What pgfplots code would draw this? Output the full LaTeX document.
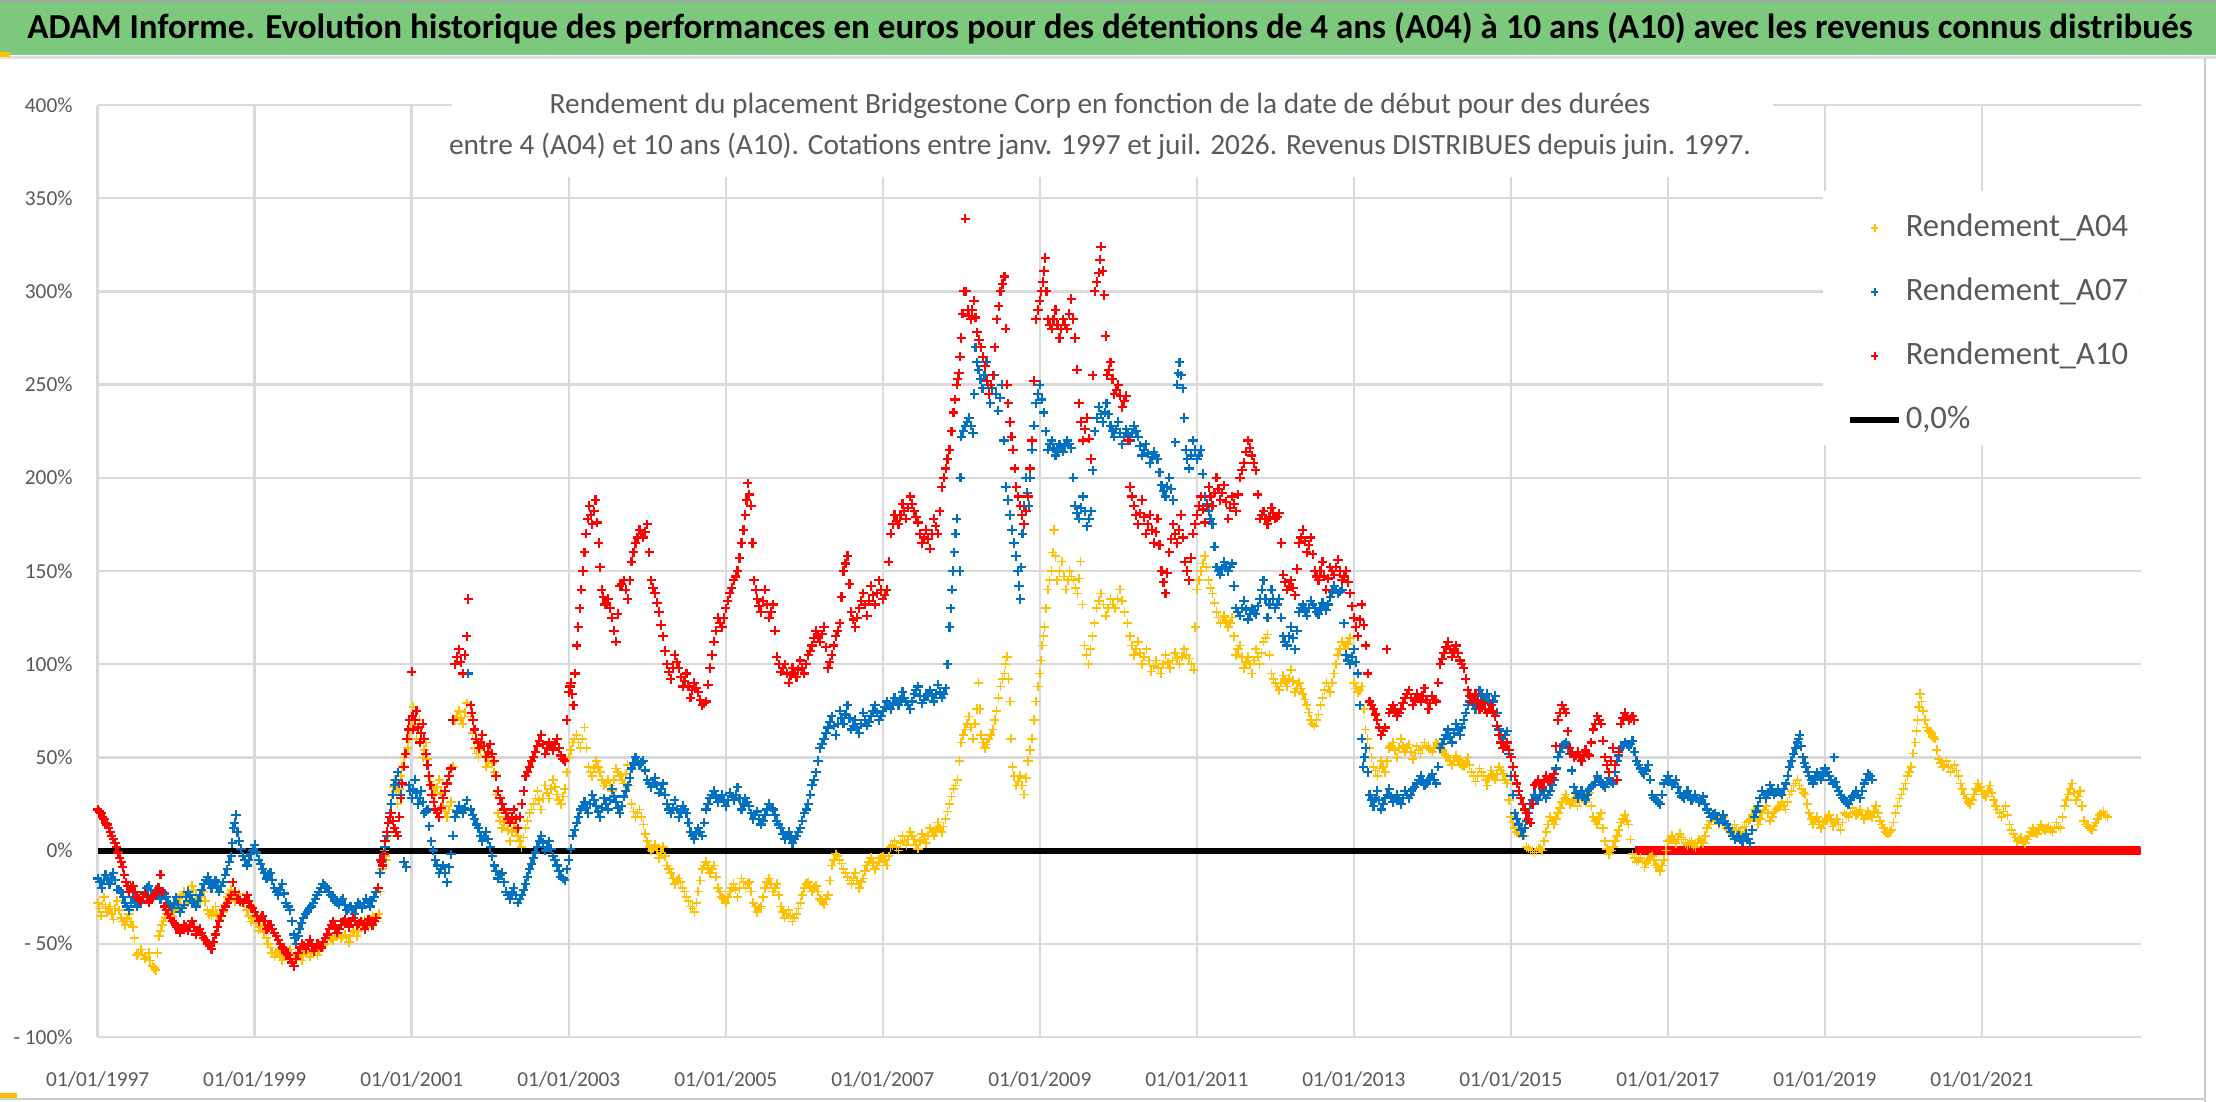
\documentclass[border=0pt]{standalone}
\usepackage{pgfplots}
\pgfplotsset{compat=1.18}
\usepackage{fontspec}
\setmainfont{Carlito}
\definecolor{ygold}{HTML}{FFC000}
\definecolor{bblue}{HTML}{0070C0}
\definecolor{rred}{HTML}{FF0000}
\definecolor{bannergreen}{RGB}{124,200,124}
\definecolor{txtgray}{HTML}{595959}
\definecolor{gridgray}{HTML}{D9D9D9}
\pgfplotsset{
  mylegmark/.style={legend image code/.code={\path (0pt,0pt) (14.5pt,0pt); \draw[##1, overlay, mark size=1.1pt, line width=0.45pt] plot coordinates {(7.3pt,0pt)};}},
  mylegline/.style={legend image code/.code={\draw[black, line width=1.8pt] (0pt,0pt) -- (14.5pt,0pt);}},
  yst/.style={only marks, mark=+, mark size=1.4pt, line width=0.5pt, ygold},
  bst/.style={only marks, mark=+, mark size=1.4pt, line width=0.65pt, bblue},
  rst/.style={only marks, mark=+, mark size=1.4pt, line width=0.65pt, rred},
}
\begin{document}
\begin{tikzpicture}
\useasboundingbox (0,0) rectangle (664.8pt,330.6pt);
\begin{scope}[shift={(0,330.6pt)}, x=0.3pt, y=-0.3pt]
\fill[white] (0,0) rectangle (2216,1102);
\fill[bannergreen] (0,0) rectangle (2216,55);
\draw[gray!70, line width=0.6pt] (0,1) -- (2216,1);
\draw[gray!25, line width=0.9pt] (0,58) -- (2216,58);
\fill[ygold] (0,52) rectangle (10,57);
\fill[ygold] (0,1093) rectangle (17,1100);
\draw[gray!40, line width=0.6pt] (2205,58) -- (2205,1102);
\draw[gray!40, line width=0.6pt] (0,1099) -- (2205,1099);
\node[anchor=center, inner sep=0pt] at (1110,28) {\resizebox{649.5pt}{!}{\bfseries\fontsize{10}{12}\selectfont ADAM Informe. Evolution historique des performances en euros pour des détentions de 4 ans (A04) à 10 ans (A10) avec les revenus connus distribués}};
\end{scope}
\begin{axis}[
  at={(29.31pt,19.5pt)}, anchor=south west,
  width=612.84pt, height=279.6pt, scale only axis,
  xmin=1997, xmax=2023.02, ymin=-100, ymax=400,
  axis line style={draw=none},
  xtick={1997,1999,2001,2003,2005,2007,2009,2011,2013,2015,2017,2019,2021},
  xticklabels={01/01/1997,01/01/1999,01/01/2001,01/01/2003,01/01/2005,01/01/2007,01/01/2009,01/01/2011,01/01/2013,01/01/2015,01/01/2017,01/01/2019,01/01/2021},
  ytick={-100,-50,0,50,100,150,200,250,300,350,400},
  yticklabels={- 100\%,- 50\%,0\%,50\%,100\%,150\%,200\%,250\%,300\%,350\%,400\%},
  grid=major, major grid style={gridgray, line width=0.75pt},
  major tick length=0pt,
  tick label style={font=\fontsize{6.4}{7.5}\selectfont, text=txtgray},
  yticklabel style={anchor=east, xshift=-4pt},
  xticklabel style={anchor=north, yshift=-6.8pt},
  legend style={at={(axis description cs:0.8562,0.885)}, anchor=north west, draw=none, fill=none, inner sep=0pt,
    font=\fontsize{9.8}{11}\selectfont, text=txtgray, row sep=10.2pt,
    nodes={inner sep=0pt, text height=7pt, text depth=2pt}},
  legend cell align=left,
  legend columns=1,
  /tikz/every odd column/.append style={column sep=1.2pt},
]
\addplot[black, line width=1.8pt, forget plot] coordinates {(1997,0) (2023.02,0)};
\addplot[rred, line width=2.7pt, forget plot] coordinates {(2016.58,0) (2023.02,0)};

\addplot[yst, mylegmark]
 table[row sep=\\] {
x y\\
1997.00 -28\\ 1997.04 -35\\ 1997.08 -25\\ 1997.12 -33\\ 1997.16 -30\\ 1997.20 -37\\ 1997.25 -27\\ 1997.30 -36\\ 1997.35 -40\\ 1997.40 -34\\
1997.45 -41\\ 1997.50 -56\\ 1997.55 -53\\ 1997.60 -58\\ 1997.65 -55\\ 1997.70 -62\\ 1997.74 -64\\ 1997.78 -46\\ 1997.82 -40\\ 1997.86 -36\\
1997.90 -32\\ 1997.95 -35\\ 1998.00 -30\\ 1998.05 -25\\ 1998.10 -22\\ 1998.15 -28\\ 1998.20 -19\\ 1998.25 -24\\ 1998.30 -27\\ 1998.35 -22\\
1998.40 -32\\ 1998.45 -35\\ 1998.50 -30\\ 1998.55 -37\\ 1998.60 -33\\ 1998.65 -25\\ 1998.70 -21\\ 1998.75 -27\\ 1998.80 -23\\ 1998.85 -28\\
1998.90 -32\\ 1998.95 -38\\ 1999.00 -35\\ 1999.05 -43\\ 1999.10 -40\\ 1999.15 -47\\ 1999.20 -52\\ 1999.25 -57\\ 1999.30 -54\\ 1999.35 -59\\
1999.40 -56\\ 1999.45 -53\\ 1999.50 -58\\ 1999.55 -55\\ 1999.60 -59\\ 1999.65 -54\\ 1999.70 -57\\ 1999.75 -53\\ 1999.80 -56\\ 1999.85 -52\\
1999.90 -50\\ 1999.95 -46\\ 2000.00 -48\\ 2000.05 -44\\ 2000.10 -47\\ 2000.15 -45\\ 2000.20 -49\\ 2000.25 -43\\ 2000.30 -46\\ 2000.35 -40\\
2000.40 -37\\ 2000.45 -41\\ 2000.50 -35\\ 2000.55 -38\\ 2000.58 -34\\ 2000.62 -10\\ 2000.65 0\\ 2000.68 -5\\ 2000.72 20\\ 2000.75 30\\
2000.78 38\\ 2000.82 25\\ 2000.86 40\\ 2000.90 50\\ 2000.95 55\\ 2000.98 65\\ 2001.02 77\\ 2001.06 60\\ 2001.10 70\\ 2001.14 50\\
2001.18 58\\ 2001.22 40\\ 2001.26 35\\ 2001.30 30\\ 2001.35 38\\ 2001.40 24\\ 2001.45 18\\ 2001.50 26\\ 2001.55 70\\ 2001.60 75\\
2001.65 68\\ 2001.70 79\\ 2001.72 135\\ 2001.75 72\\ 2001.80 55\\ 2001.85 50\\ 2001.90 58\\ 2001.95 45\\ 2002.00 52\\ 2002.05 42\\
2002.10 20\\ 2002.15 12\\ 2002.20 18\\ 2002.25 5\\ 2002.30 15\\ 2002.35 8\\ 2002.40 2\\ 2002.45 12\\ 2002.50 20\\ 2002.55 25\\
2002.60 32\\ 2002.65 22\\ 2002.70 35\\ 2002.75 28\\ 2002.80 38\\ 2002.85 30\\ 2002.90 25\\ 2002.95 33\\ 2003.00 50\\ 2003.05 58\\
2003.10 62\\ 2003.15 55\\ 2003.20 66\\ 2003.25 45\\ 2003.30 40\\ 2003.35 48\\ 2003.40 42\\ 2003.45 35\\ 2003.50 38\\ 2003.55 32\\
2003.60 44\\ 2003.65 40\\ 2003.70 36\\ 2003.75 46\\ 2003.80 25\\ 2003.85 18\\ 2003.90 22\\ 2003.95 14\\ 2004.00 5\\ 2004.05 0\\
2004.10 3\\ 2004.15 -4\\ 2004.20 2\\ 2004.25 -8\\ 2004.30 -12\\ 2004.35 -18\\ 2004.40 -15\\ 2004.45 -20\\ 2004.50 -25\\ 2004.55 -30\\
2004.60 -33\\ 2004.65 -22\\ 2004.70 -10\\ 2004.75 -6\\ 2004.80 -12\\ 2004.85 -8\\ 2004.90 -20\\ 2004.95 -25\\ 2005.00 -28\\ 2005.05 -22\\
2005.10 -18\\ 2005.15 -25\\ 2005.20 -15\\ 2005.25 -20\\ 2005.30 -17\\ 2005.35 -28\\ 2005.40 -33\\ 2005.45 -30\\ 2005.50 -20\\ 2005.55 -15\\
2005.60 -22\\ 2005.65 -18\\ 2005.70 -30\\ 2005.75 -36\\ 2005.80 -32\\ 2005.85 -38\\ 2005.90 -34\\ 2005.95 -28\\ 2006.00 -20\\ 2006.05 -17\\
2006.10 -22\\ 2006.15 -19\\ 2006.20 -26\\ 2006.25 -29\\ 2006.30 -24\\ 2006.35 -8\\ 2006.40 -2\\ 2006.45 -5\\ 2006.50 -10\\ 2006.55 -14\\
2006.60 -18\\ 2006.65 -12\\ 2006.70 -20\\ 2006.75 -15\\ 2006.80 -8\\ 2006.85 -4\\ 2006.90 -10\\ 2006.95 -6\\ 2007.00 -3\\ 2007.05 -8\\
2007.10 2\\ 2007.15 5\\ 2007.20 0\\ 2007.25 8\\ 2007.30 3\\ 2007.35 10\\ 2007.40 6\\ 2007.45 1\\ 2007.50 9\\ 2007.55 4\\
2007.60 12\\ 2007.65 8\\ 2007.70 15\\ 2007.75 10\\ 2007.80 17\\ 2007.85 25\\ 2007.90 33\\ 2007.95 38\\ 2008.00 58\\ 2008.05 65\\
2008.10 72\\ 2008.15 60\\ 2008.20 76\\ 2008.22 90\\ 2008.25 62\\ 2008.30 55\\ 2008.35 60\\ 2008.40 65\\ 2008.45 75\\ 2008.50 88\\
2008.55 95\\ 2008.58 104\\ 2008.62 80\\ 2008.65 45\\ 2008.70 35\\ 2008.75 40\\ 2008.80 30\\ 2008.85 48\\ 2008.90 60\\ 2008.95 80\\
2009.00 95\\ 2009.03 110\\ 2009.06 120\\ 2009.10 140\\ 2009.15 150\\ 2009.18 172\\ 2009.22 145\\ 2009.28 155\\ 2009.33 140\\ 2009.38 150\\
2009.43 145\\ 2009.48 138\\ 2009.52 155\\ 2009.57 110\\ 2009.62 100\\ 2009.67 115\\ 2009.72 130\\ 2009.78 138\\ 2009.84 126\\ 2009.90 135\\
2009.96 130\\ 2010.02 140\\ 2010.08 128\\ 2010.15 115\\ 2010.20 105\\ 2010.25 112\\ 2010.30 100\\ 2010.36 108\\ 2010.42 96\\ 2010.48 102\\
2010.54 95\\ 2010.60 105\\ 2010.66 98\\ 2010.72 106\\ 2010.78 100\\ 2010.84 108\\ 2010.90 103\\ 2010.96 97\\ 2011.00 140\\ 2011.05 150\\
2011.10 158\\ 2011.15 145\\ 2011.20 138\\ 2011.25 128\\ 2011.30 122\\ 2011.35 126\\ 2011.40 120\\ 2011.45 125\\ 2011.50 105\\ 2011.55 110\\
2011.60 98\\ 2011.65 104\\ 2011.70 95\\ 2011.75 108\\ 2011.80 100\\ 2011.85 112\\ 2011.90 116\\ 2011.95 95\\ 2012.00 90\\ 2012.05 86\\
2012.10 94\\ 2012.15 88\\ 2012.20 97\\ 2012.25 85\\ 2012.30 90\\ 2012.35 84\\ 2012.40 78\\ 2012.45 70\\ 2012.50 67\\ 2012.55 73\\
2012.60 82\\ 2012.65 90\\ 2012.70 85\\ 2012.75 95\\ 2012.80 105\\ 2012.85 112\\ 2012.90 108\\ 2012.95 114\\ 2013.00 90\\ 2013.05 85\\
2013.10 88\\ 2013.15 65\\ 2013.20 55\\ 2013.25 45\\ 2013.30 40\\ 2013.35 48\\ 2013.40 42\\ 2013.45 55\\ 2013.50 58\\ 2013.55 50\\
2013.60 60\\ 2013.65 53\\ 2013.70 57\\ 2013.75 49\\ 2013.80 56\\ 2013.85 52\\ 2013.90 58\\ 2013.95 55\\ 2014.00 53\\ 2014.05 58\\
2014.10 56\\ 2014.15 52\\ 2014.20 50\\ 2014.25 46\\ 2014.30 51\\ 2014.35 48\\ 2014.40 45\\ 2014.45 50\\ 2014.50 42\\ 2014.55 37\\
2014.60 44\\ 2014.65 40\\ 2014.70 35\\ 2014.75 43\\ 2014.80 38\\ 2014.85 45\\ 2014.90 41\\ 2014.95 36\\ 2015.00 18\\ 2015.05 12\\
2015.10 9\\ 2015.15 15\\ 2015.20 2\\ 2015.25 0\\ 2015.30 -1\\ 2015.35 1\\ 2015.40 0\\ 2015.45 10\\ 2015.50 18\\ 2015.55 14\\
2015.60 20\\ 2015.65 26\\ 2015.70 30\\ 2015.75 25\\ 2015.80 28\\ 2015.85 24\\ 2015.90 29\\ 2015.95 26\\ 2016.00 31\\ 2016.05 18\\
2016.10 14\\ 2016.15 20\\ 2016.20 5\\ 2016.25 -2\\ 2016.30 2\\ 2016.35 8\\ 2016.40 15\\ 2016.45 19\\ 2016.50 14\\ 2016.55 -2\\
2016.60 -6\\ 2016.65 -4\\ 2016.70 -9\\ 2016.75 -5\\ 2016.80 -3\\ 2016.85 -8\\ 2016.90 -11\\ 2016.95 -5\\ 2017.00 5\\ 2017.05 8\\
2017.10 4\\ 2017.15 9\\ 2017.20 6\\ 2017.25 3\\ 2017.30 5\\ 2017.35 2\\ 2017.40 6\\ 2017.45 4\\ 2017.50 12\\ 2017.55 16\\
2017.60 20\\ 2017.65 14\\ 2017.70 18\\ 2017.75 12\\ 2017.80 10\\ 2017.85 14\\ 2017.90 9\\ 2017.95 12\\ 2018.00 15\\ 2018.05 17\\
2018.10 22\\ 2018.15 14\\ 2018.20 20\\ 2018.25 24\\ 2018.30 16\\ 2018.35 21\\ 2018.40 23\\ 2018.45 26\\ 2018.50 22\\ 2018.55 30\\
2018.60 35\\ 2018.65 38\\ 2018.70 33\\ 2018.75 30\\ 2018.80 20\\ 2018.85 14\\ 2018.90 18\\ 2018.95 12\\ 2019.00 16\\ 2019.05 19\\
2019.10 13\\ 2019.15 17\\ 2019.20 11\\ 2019.25 20\\ 2019.30 18\\ 2019.35 23\\ 2019.40 19\\ 2019.45 22\\ 2019.50 17\\ 2019.55 21\\
2019.60 18\\ 2019.65 24\\ 2019.70 16\\ 2019.75 12\\ 2019.80 9\\ 2019.85 11\\ 2019.90 20\\ 2019.95 28\\ 2020.00 33\\ 2020.05 40\\
2020.10 45\\ 2020.15 58\\ 2020.18 70\\ 2020.21 84\\ 2020.25 75\\ 2020.30 66\\ 2020.35 63\\ 2020.40 60\\ 2020.45 49\\ 2020.50 45\\
2020.55 48\\ 2020.60 42\\ 2020.65 46\\ 2020.70 40\\ 2020.75 33\\ 2020.80 28\\ 2020.85 25\\ 2020.90 30\\ 2020.95 36\\ 2021.00 32\\
2021.05 29\\ 2021.10 35\\ 2021.15 27\\ 2021.20 22\\ 2021.25 18\\ 2021.30 24\\ 2021.35 14\\ 2021.40 9\\ 2021.45 5\\ 2021.50 7\\
2021.55 4\\ 2021.60 8\\ 2021.65 12\\ 2021.70 9\\ 2021.75 14\\ 2021.80 11\\ 2021.85 13\\ 2021.90 10\\ 2021.95 15\\ 2022.00 12\\
2022.05 24\\ 2022.10 30\\ 2022.15 36\\ 2022.20 27\\ 2022.25 32\\ 2022.30 16\\ 2022.35 13\\ 2022.40 11\\ 2022.45 15\\ 2022.50 19\\
2022.55 21\\ 2022.60 18\\
};
\addlegendentry{Rendement\_A04}
\addplot[yst, forget plot]
 table[row sep=\\] {
x y\\
1997.02 -31\\ 1997.06 -29\\ 1997.10 -30\\ 1997.14 -31\\ 1997.18 -34\\ 1997.22 -31\\ 1997.27 -32\\ 1997.32 -38\\ 1997.37 -37\\ 1997.42 -38\\
1997.47 -47\\ 1997.52 -55\\ 1997.57 -56\\ 1997.62 -57\\ 1997.67 -59\\ 1997.72 -63\\ 1997.76 -55\\ 1997.80 -43\\ 1997.84 -38\\ 1997.88 -34\\
1997.92 -33\\ 1997.97 -32\\ 1998.02 -28\\ 1998.07 -24\\ 1998.12 -25\\ 1998.17 -24\\ 1998.22 -21\\ 1998.27 -26\\ 1998.32 -25\\ 1998.37 -27\\
1998.42 -34\\ 1998.47 -33\\ 1998.52 -34\\ 1998.57 -35\\ 1998.62 -29\\ 1998.67 -23\\ 1998.72 -24\\ 1998.77 -25\\ 1998.82 -26\\ 1998.87 -30\\
1998.92 -35\\ 1998.97 -36\\ 1999.02 -39\\ 1999.07 -41\\ 1999.12 -44\\ 1999.17 -50\\ 1999.22 -55\\ 1999.27 -55\\ 1999.32 -57\\ 1999.37 -57\\
1999.42 -54\\ 1999.47 -56\\ 1999.52 -56\\ 1999.57 -57\\ 1999.62 -56\\ 1999.67 -55\\ 1999.72 -55\\ 1999.77 -54\\ 1999.82 -54\\ 1999.87 -51\\
1999.92 -48\\ 1999.97 -47\\ 2000.02 -46\\ 2000.07 -45\\ 2000.12 -46\\ 2000.17 -47\\ 2000.22 -46\\ 2000.27 -44\\ 2000.32 -43\\ 2000.37 -38\\
2000.42 -39\\ 2000.47 -38\\ 2000.52 -36\\ 2000.565 -36\\ 2000.60 -22\\ 2000.635 -5\\ 2000.665 -3\\ 2000.70 8\\ 2000.735 25\\ 2000.765 34\\
2000.80 32\\ 2000.84 33\\ 2000.88 45\\ 2000.925 52\\ 2000.965 60\\ 2001.00 70\\ 2001.04 68\\ 2001.08 65\\ 2001.12 60\\ 2001.16 54\\
2001.20 49\\ 2001.24 37\\ 2001.28 33\\ 2001.325 34\\ 2001.375 31\\ 2001.425 21\\ 2001.475 22\\ 2001.525 45\\ 2001.575 72\\ 2001.625 71\\
2001.675 74\\ 2001.775 63\\ 2001.825 52\\ 2001.875 54\\ 2001.925 51\\ 2001.975 48\\ 2002.025 47\\ 2002.075 30\\ 2002.125 16\\ 2002.175 15\\
2002.225 11\\ 2002.275 10\\ 2002.325 11\\ 2002.375 5\\ 2002.425 7\\ 2002.475 16\\ 2002.525 22\\ 2002.575 28\\ 2002.625 27\\ 2002.675 28\\
2002.725 31\\ 2002.775 33\\ 2002.825 34\\ 2002.875 27\\ 2002.925 29\\ 2002.975 42\\ 2003.025 54\\ 2003.075 60\\ 2003.125 58\\ 2003.175 60\\
2003.225 55\\ 2003.275 42\\ 2003.325 44\\ 2003.375 45\\ 2003.425 38\\ 2003.475 36\\ 2003.525 35\\ 2003.575 38\\ 2003.625 42\\ 2003.675 38\\
2003.725 41\\ 2003.775 35\\ 2003.825 21\\ 2003.875 20\\ 2003.925 18\\ 2003.975 9\\ 2004.025 2\\ 2004.075 1\\ 2004.125 0\\ 2004.175 -1\\
2004.225 -3\\ 2004.275 -10\\ 2004.325 -15\\ 2004.375 -16\\ 2004.425 -17\\ 2004.475 -22\\ 2004.525 -27\\ 2004.575 -31\\ 2004.625 -28\\ 2004.675 -16\\
2004.725 -8\\ 2004.775 -9\\ 2004.825 -10\\ 2004.875 -14\\ 2004.925 -22\\ 2004.975 -26\\ 2005.025 -25\\ 2005.075 -20\\ 2005.125 -21\\ 2005.175 -20\\
2005.225 -17\\ 2005.275 -18\\ 2005.325 -22\\ 2005.375 -30\\ 2005.425 -31\\ 2005.475 -25\\ 2005.525 -17\\ 2005.575 -18\\ 2005.625 -20\\ 2005.675 -24\\
2005.725 -33\\ 2005.775 -34\\ 2005.825 -35\\ 2005.875 -36\\ 2005.925 -31\\ 2005.975 -24\\ 2006.025 -18\\ 2006.075 -19\\ 2006.125 -20\\ 2006.175 -22\\
2006.225 -27\\ 2006.275 -26\\ 2006.325 -16\\ 2006.375 -5\\ 2006.425 -3\\ 2006.475 -7\\ 2006.525 -12\\ 2006.575 -16\\ 2006.625 -15\\ 2006.675 -16\\
2006.725 -17\\ 2006.775 -11\\ 2006.825 -6\\ 2006.875 -7\\ 2006.925 -8\\ 2006.975 -4\\ 2007.025 -5\\ 2007.075 -3\\ 2007.125 3\\ 2007.175 2\\
2007.225 4\\ 2007.275 5\\ 2007.325 6\\ 2007.375 8\\ 2007.425 3\\ 2007.475 5\\ 2007.525 6\\ 2007.575 8\\ 2007.625 10\\ 2007.675 11\\
2007.725 12\\ 2007.775 13\\ 2007.825 21\\ 2007.875 29\\ 2007.925 35\\ 2007.975 48\\ 2008.025 62\\ 2008.075 68\\ 2008.125 66\\ 2008.175 68\\
2008.235 76\\ 2008.275 58\\ 2008.325 57\\ 2008.375 62\\ 2008.425 70\\ 2008.475 82\\ 2008.525 92\\ 2008.565 100\\ 2008.60 92\\ 2008.635 60\\
2008.675 40\\ 2008.725 37\\ 2008.775 35\\ 2008.825 39\\ 2008.875 54\\ 2008.925 70\\ 2008.975 88\\ 2009.015 102\\ 2009.045 115\\ 2009.08 130\\
2009.125 145\\ 2009.165 160\\ 2009.20 158\\ 2009.25 150\\ 2009.305 147\\ 2009.355 145\\ 2009.405 147\\ 2009.455 141\\ 2009.50 146\\ 2009.545 132\\
2009.595 105\\ 2009.645 108\\ 2009.695 122\\ 2009.75 134\\ 2009.81 132\\ 2009.87 130\\ 2009.93 132\\ 2009.99 135\\ 2010.05 134\\ 2010.115 122\\
2010.175 110\\ 2010.225 108\\ 2010.275 106\\ 2010.33 104\\ 2010.39 102\\ 2010.45 99\\ 2010.51 98\\ 2010.57 100\\ 2010.63 101\\ 2010.69 102\\
2010.75 103\\ 2010.81 104\\ 2010.87 105\\ 2010.93 100\\ 2010.98 120\\ 2011.025 145\\ 2011.075 154\\ 2011.125 152\\ 2011.175 141\\ 2011.225 133\\
2011.275 125\\ 2011.325 124\\ 2011.375 123\\ 2011.425 122\\ 2011.475 115\\ 2011.525 108\\ 2011.575 104\\ 2011.625 101\\ 2011.675 100\\ 2011.725 102\\
2011.775 104\\ 2011.825 106\\ 2011.875 114\\ 2011.925 105\\ 2011.975 92\\ 2012.025 88\\ 2012.075 90\\ 2012.125 91\\ 2012.175 92\\ 2012.225 91\\
2012.275 87\\ 2012.325 87\\ 2012.375 81\\ 2012.425 74\\ 2012.475 68\\ 2012.525 70\\ 2012.575 78\\ 2012.625 86\\ 2012.675 88\\ 2012.725 90\\
2012.775 100\\ 2012.825 108\\ 2012.875 110\\ 2012.925 111\\ 2012.975 102\\ 2013.025 87\\ 2013.075 86\\ 2013.125 76\\ 2013.175 60\\ 2013.225 50\\
2013.275 43\\ 2013.325 44\\ 2013.375 45\\ 2013.425 48\\ 2013.475 56\\ 2013.525 54\\ 2013.575 55\\ 2013.625 56\\ 2013.675 55\\ 2013.725 53\\
2013.775 52\\ 2013.825 54\\ 2013.875 55\\ 2013.925 56\\ 2013.975 54\\ 2014.025 55\\ 2014.075 57\\ 2014.125 54\\ 2014.175 51\\ 2014.225 48\\
2014.275 48\\ 2014.325 49\\ 2014.375 46\\ 2014.425 47\\ 2014.475 46\\ 2014.525 40\\ 2014.575 40\\ 2014.625 42\\ 2014.675 38\\ 2014.725 39\\
2014.775 40\\ 2014.825 41\\ 2014.875 43\\ 2014.925 38\\ 2014.975 27\\ 2015.025 15\\ 2015.075 10\\ 2015.125 12\\ 2015.175 8\\ 2015.225 1\\
2015.275 0\\ 2015.325 0\\ 2015.375 1\\ 2015.425 5\\ 2015.475 14\\ 2015.525 16\\ 2015.575 17\\ 2015.625 23\\ 2015.675 28\\ 2015.725 27\\
2015.775 26\\ 2015.825 26\\ 2015.875 27\\ 2015.925 27\\ 2015.975 28\\ 2016.025 24\\ 2016.075 16\\ 2016.125 17\\ 2016.175 12\\ 2016.225 1\\
2016.275 0\\ 2016.325 5\\ 2016.375 11\\ 2016.425 17\\ 2016.475 16\\ 2016.525 6\\ 2016.575 -4\\ 2016.625 -5\\ 2016.675 -6\\ 2016.725 -7\\
2016.775 -4\\ 2016.825 -5\\ 2016.875 -9\\ 2016.925 -8\\ 2016.975 0\\ 2017.025 6\\ 2017.075 6\\ 2017.125 6\\ 2017.175 7\\ 2017.225 4\\
2017.275 4\\ 2017.325 3\\ 2017.375 4\\ 2017.425 5\\ 2017.475 8\\ 2017.525 14\\ 2017.575 18\\ 2017.625 17\\ 2017.675 16\\ 2017.725 15\\
2017.775 11\\ 2017.825 12\\ 2017.875 11\\ 2017.925 10\\ 2017.975 13\\ 2018.025 16\\ 2018.075 19\\ 2018.125 18\\ 2018.175 17\\ 2018.225 22\\
2018.275 20\\ 2018.325 18\\ 2018.375 22\\ 2018.425 24\\ 2018.475 24\\ 2018.525 26\\ 2018.575 32\\ 2018.625 36\\ 2018.675 35\\ 2018.725 31\\
2018.775 25\\ 2018.825 17\\ 2018.875 16\\ 2018.925 15\\ 2018.975 14\\ 2019.025 17\\ 2019.075 16\\ 2019.125 15\\ 2019.175 14\\ 2019.225 15\\
2019.275 19\\ 2019.325 20\\ 2019.375 21\\ 2019.425 20\\ 2019.475 19\\ 2019.525 19\\ 2019.575 19\\ 2019.625 21\\ 2019.675 20\\ 2019.725 14\\
2019.775 10\\ 2019.825 10\\ 2019.875 15\\ 2019.925 24\\ 2019.975 30\\ 2020.025 36\\ 2020.075 42\\ 2020.125 52\\ 2020.165 64\\ 2020.195 77\\
2020.23 80\\ 2020.275 70\\ 2020.325 64\\ 2020.375 61\\ 2020.425 54\\ 2020.475 47\\ 2020.525 46\\ 2020.575 45\\ 2020.625 44\\ 2020.675 43\\
2020.725 36\\ 2020.775 30\\ 2020.825 26\\ 2020.875 27\\ 2020.925 33\\ 2020.975 34\\ 2021.025 30\\ 2021.075 32\\ 2021.125 31\\ 2021.175 24\\
2021.225 20\\ 2021.275 21\\ 2021.325 19\\ 2021.375 11\\ 2021.425 7\\ 2021.475 6\\ 2021.525 5\\ 2021.575 6\\ 2021.625 10\\ 2021.675 10\\
2021.725 11\\ 2021.775 12\\ 2021.825 12\\ 2021.875 11\\ 2021.925 12\\ 2021.975 13\\ 2022.025 18\\ 2022.075 27\\ 2022.125 33\\ 2022.175 31\\
2022.225 29\\ 2022.275 24\\ 2022.325 14\\ 2022.375 12\\ 2022.425 13\\ 2022.475 17\\ 2022.525 20\\ 2022.575 19\\
};

\addplot[bst, mylegmark]
 table[row sep=\\] {
x y\\
1997.00 -15\\ 1997.05 -20\\ 1997.10 -13\\ 1997.15 -18\\ 1997.20 -12\\ 1997.25 -21\\ 1997.30 -22\\ 1997.35 -28\\ 1997.40 -32\\ 1997.45 -25\\
1997.50 -30\\ 1997.55 -27\\ 1997.60 -22\\ 1997.65 -19\\ 1997.70 -24\\ 1997.75 -21\\ 1997.80 -26\\ 1997.85 -23\\ 1997.90 -28\\ 1997.95 -31\\
1998.00 -25\\ 1998.05 -33\\ 1998.10 -29\\ 1998.15 -22\\ 1998.20 -27\\ 1998.25 -30\\ 1998.30 -24\\ 1998.35 -18\\ 1998.40 -14\\ 1998.45 -20\\
1998.50 -16\\ 1998.55 -22\\ 1998.60 -17\\ 1998.65 -10\\ 1998.70 -3\\ 1998.73 12\\ 1998.76 19\\ 1998.80 5\\ 1998.85 -3\\ 1998.90 -8\\
1998.95 -2\\ 1999.00 3\\ 1999.05 -5\\ 1999.10 -10\\ 1999.15 -15\\ 1999.20 -12\\ 1999.25 -20\\ 1999.30 -24\\ 1999.35 -18\\ 1999.40 -28\\
1999.45 -32\\ 1999.50 -45\\ 1999.53 -50\\ 1999.57 -42\\ 1999.62 -36\\ 1999.67 -33\\ 1999.72 -30\\ 1999.77 -26\\ 1999.82 -22\\ 1999.87 -18\\
1999.92 -20\\ 1999.97 -24\\ 2000.02 -27\\ 2000.07 -29\\ 2000.12 -26\\ 2000.17 -32\\ 2000.22 -30\\ 2000.27 -34\\ 2000.32 -28\\ 2000.37 -31\\
2000.42 -26\\ 2000.47 -30\\ 2000.52 -25\\ 2000.57 -20\\ 2000.62 -5\\ 2000.66 2\\ 2000.70 15\\ 2000.74 25\\ 2000.78 35\\ 2000.82 42\\
2000.86 30\\ 2000.90 -6\\ 2000.93 -9\\ 2000.96 35\\ 2001.00 28\\ 2001.04 38\\ 2001.08 25\\ 2001.12 32\\ 2001.16 20\\ 2001.20 22\\
2001.25 5\\ 2001.30 -5\\ 2001.35 -12\\ 2001.40 -8\\ 2001.45 -17\\ 2001.50 -2\\ 2001.55 18\\ 2001.60 24\\ 2001.65 20\\ 2001.70 27\\
2001.72 95\\ 2001.75 22\\ 2001.80 17\\ 2001.85 12\\ 2001.90 5\\ 2001.95 10\\ 2002.00 2\\ 2002.05 -8\\ 2002.10 -15\\ 2002.15 -12\\
2002.20 -22\\ 2002.25 -26\\ 2002.30 -20\\ 2002.35 -28\\ 2002.40 -24\\ 2002.45 -18\\ 2002.50 -10\\ 2002.55 -4\\ 2002.60 2\\ 2002.65 8\\
2002.70 0\\ 2002.75 5\\ 2002.80 -3\\ 2002.85 -8\\ 2002.90 -14\\ 2002.95 -16\\ 2003.00 -5\\ 2003.05 8\\ 2003.10 15\\ 2003.15 22\\
2003.20 26\\ 2003.25 20\\ 2003.30 30\\ 2003.35 24\\ 2003.40 18\\ 2003.45 28\\ 2003.50 22\\ 2003.55 33\\ 2003.60 26\\ 2003.65 20\\
2003.70 29\\ 2003.75 35\\ 2003.80 44\\ 2003.85 50\\ 2003.90 46\\ 2003.95 48\\ 2004.00 38\\ 2004.05 34\\ 2004.10 39\\ 2004.15 31\\
2004.20 36\\ 2004.25 25\\ 2004.30 20\\ 2004.35 27\\ 2004.40 18\\ 2004.45 24\\ 2004.50 20\\ 2004.55 10\\ 2004.60 6\\ 2004.65 12\\
2004.70 8\\ 2004.75 22\\ 2004.80 28\\ 2004.85 32\\ 2004.90 26\\ 2004.95 30\\ 2005.00 24\\ 2005.05 31\\ 2005.10 27\\ 2005.15 34\\
2005.20 22\\ 2005.25 28\\ 2005.30 24\\ 2005.35 17\\ 2005.40 21\\ 2005.45 14\\ 2005.50 19\\ 2005.55 25\\ 2005.60 22\\ 2005.65 16\\
2005.70 12\\ 2005.75 6\\ 2005.80 10\\ 2005.85 4\\ 2005.90 8\\ 2005.95 12\\ 2006.00 20\\ 2006.05 25\\ 2006.10 35\\ 2006.15 42\\
2006.20 55\\ 2006.25 60\\ 2006.30 66\\ 2006.35 72\\ 2006.40 62\\ 2006.45 75\\ 2006.50 68\\ 2006.55 78\\ 2006.60 65\\ 2006.65 70\\
2006.70 63\\ 2006.75 74\\ 2006.80 67\\ 2006.85 72\\ 2006.90 78\\ 2006.95 70\\ 2007.00 75\\ 2007.05 80\\ 2007.10 76\\ 2007.15 82\\
2007.20 78\\ 2007.25 85\\ 2007.30 80\\ 2007.35 76\\ 2007.40 84\\ 2007.45 88\\ 2007.50 79\\ 2007.55 83\\ 2007.60 86\\ 2007.65 80\\
2007.70 89\\ 2007.75 82\\ 2007.80 87\\ 2007.85 120\\ 2007.88 140\\ 2007.91 160\\ 2007.94 178\\ 2007.98 150\\ 2008.00 222\\ 2008.05 228\\
2008.10 232\\ 2008.15 224\\ 2008.18 270\\ 2008.22 258\\ 2008.27 248\\ 2008.32 262\\ 2008.37 240\\ 2008.42 255\\ 2008.47 236\\ 2008.52 250\\
2008.57 195\\ 2008.62 180\\ 2008.67 165\\ 2008.72 150\\ 2008.75 135\\ 2008.78 170\\ 2008.82 200\\ 2008.86 185\\ 2008.90 215\\ 2008.95 240\\
2009.00 250\\ 2009.05 235\\ 2009.10 215\\ 2009.15 220\\ 2009.20 212\\ 2009.25 218\\ 2009.30 214\\ 2009.35 220\\ 2009.40 216\\ 2009.45 185\\
2009.50 178\\ 2009.55 190\\ 2009.60 174\\ 2009.65 182\\ 2009.70 225\\ 2009.75 238\\ 2009.80 230\\ 2009.85 240\\ 2009.90 228\\ 2009.95 222\\
2010.00 230\\ 2010.05 218\\ 2010.10 226\\ 2010.15 220\\ 2010.20 228\\ 2010.25 222\\ 2010.30 212\\ 2010.35 218\\ 2010.40 208\\ 2010.45 214\\
2010.50 210\\ 2010.55 196\\ 2010.60 190\\ 2010.65 200\\ 2010.70 188\\ 2010.75 250\\ 2010.78 262\\ 2010.82 248\\ 2010.86 215\\ 2010.90 205\\
2010.95 220\\ 2011.00 210\\ 2011.05 215\\ 2011.10 190\\ 2011.15 182\\ 2011.20 175\\ 2011.25 152\\ 2011.30 148\\ 2011.35 155\\ 2011.40 150\\
2011.45 154\\ 2011.50 130\\ 2011.55 126\\ 2011.60 134\\ 2011.65 124\\ 2011.70 130\\ 2011.75 127\\ 2011.80 135\\ 2011.85 145\\ 2011.90 125\\
2011.95 140\\ 2012.00 130\\ 2012.05 135\\ 2012.10 115\\ 2012.15 110\\ 2012.20 120\\ 2012.25 108\\ 2012.30 128\\ 2012.35 132\\ 2012.40 126\\
2012.45 134\\ 2012.50 130\\ 2012.55 127\\ 2012.60 133\\ 2012.65 129\\ 2012.70 136\\ 2012.75 142\\ 2012.80 138\\ 2012.85 140\\ 2012.90 105\\
2012.95 100\\ 2013.00 108\\ 2013.05 95\\ 2013.10 60\\ 2013.12 45\\ 2013.15 55\\ 2013.20 30\\ 2013.25 24\\ 2013.30 32\\ 2013.35 22\\
2013.40 28\\ 2013.45 33\\ 2013.50 26\\ 2013.55 30\\ 2013.60 25\\ 2013.65 32\\ 2013.70 28\\ 2013.75 33\\ 2013.80 36\\ 2013.85 40\\
2013.90 35\\ 2013.95 38\\ 2014.00 41\\ 2014.05 36\\ 2014.10 55\\ 2014.15 60\\ 2014.20 65\\ 2014.25 58\\ 2014.30 68\\ 2014.35 62\\
2014.40 70\\ 2014.45 78\\ 2014.50 82\\ 2014.55 76\\ 2014.60 86\\ 2014.65 80\\ 2014.70 84\\ 2014.75 78\\ 2014.80 83\\ 2014.85 65\\
2014.90 60\\ 2014.95 64\\ 2015.00 40\\ 2015.05 20\\ 2015.10 14\\ 2015.15 8\\ 2015.20 16\\ 2015.25 25\\ 2015.30 30\\ 2015.35 27\\
2015.40 33\\ 2015.45 28\\ 2015.50 32\\ 2015.55 38\\ 2015.60 50\\ 2015.65 56\\ 2015.70 58\\ 2015.75 52\\ 2015.80 34\\ 2015.85 28\\
2015.90 32\\ 2015.95 27\\ 2016.00 33\\ 2016.05 35\\ 2016.10 40\\ 2016.15 37\\ 2016.20 34\\ 2016.25 39\\ 2016.30 36\\ 2016.35 48\\
2016.40 55\\ 2016.45 58\\ 2016.50 56\\ 2016.55 59\\ 2016.60 48\\ 2016.65 44\\ 2016.70 41\\ 2016.75 46\\ 2016.80 30\\ 2016.85 27\\
2016.90 25\\ 2016.95 36\\ 2017.00 40\\ 2017.05 35\\ 2017.10 38\\ 2017.15 31\\ 2017.20 28\\ 2017.25 32\\ 2017.30 27\\ 2017.35 30\\
2017.40 26\\ 2017.45 29\\ 2017.50 22\\ 2017.55 18\\ 2017.60 20\\ 2017.65 15\\ 2017.70 19\\ 2017.75 14\\ 2017.80 10\\ 2017.85 6\\
2017.90 8\\ 2017.95 5\\ 2018.00 9\\ 2018.05 4\\ 2018.10 18\\ 2018.15 24\\ 2018.20 32\\ 2018.25 28\\ 2018.30 35\\ 2018.35 30\\
2018.40 33\\ 2018.45 30\\ 2018.50 36\\ 2018.55 45\\ 2018.60 52\\ 2018.65 58\\ 2018.68 62\\ 2018.72 50\\ 2018.76 45\\ 2018.80 40\\
2018.85 36\\ 2018.90 42\\ 2018.95 38\\ 2019.00 44\\ 2019.05 40\\ 2019.10 36\\ 2019.12 50\\ 2019.15 34\\ 2019.20 30\\ 2019.25 27\\
2019.30 25\\ 2019.35 29\\ 2019.40 32\\ 2019.45 28\\ 2019.50 36\\ 2019.55 41\\ 2019.60 38\\
};
\addlegendentry{Rendement\_A07}
\addplot[bst, forget plot]
 table[row sep=\\] {
x y\\
1997.025 -17\\ 1997.075 -16\\ 1997.125 -15\\ 1997.175 -15\\ 1997.225 -16\\ 1997.275 -21\\ 1997.325 -25\\ 1997.375 -30\\ 1997.425 -28\\ 1997.475 -27\\
1997.525 -28\\ 1997.575 -25\\ 1997.625 -20\\ 1997.675 -21\\ 1997.725 -22\\ 1997.775 -23\\ 1997.825 -24\\ 1997.875 -25\\ 1997.925 -29\\ 1997.975 -28\\
1998.025 -29\\ 1998.075 -31\\ 1998.125 -25\\ 1998.175 -24\\ 1998.225 -28\\ 1998.275 -27\\ 1998.325 -21\\ 1998.375 -16\\ 1998.425 -17\\ 1998.475 -18\\
1998.525 -19\\ 1998.575 -19\\ 1998.625 -13\\ 1998.675 -6\\ 1998.715 4\\ 1998.745 15\\ 1998.78 10\\ 1998.825 1\\ 1998.875 -5\\ 1998.925 -5\\
1998.975 0\\ 1999.025 -1\\ 1999.075 -7\\ 1999.125 -12\\ 1999.175 -13\\ 1999.225 -16\\ 1999.275 -22\\ 1999.325 -21\\ 1999.375 -23\\ 1999.425 -30\\
1999.475 -38\\ 1999.515 -47\\ 1999.55 -46\\ 1999.595 -39\\ 1999.645 -34\\ 1999.695 -31\\ 1999.745 -28\\ 1999.795 -24\\ 1999.845 -20\\ 1999.895 -19\\
1999.945 -22\\ 1999.995 -25\\ 2000.045 -28\\ 2000.095 -27\\ 2000.145 -29\\ 2000.195 -31\\ 2000.245 -32\\ 2000.295 -31\\ 2000.345 -29\\ 2000.395 -28\\
2000.445 -28\\ 2000.495 -27\\ 2000.545 -22\\ 2000.595 -12\\ 2000.64 -2\\ 2000.68 8\\ 2000.72 20\\ 2000.76 30\\ 2000.80 38\\ 2000.84 36\\
2000.98 32\\ 2001.02 33\\ 2001.06 31\\ 2001.10 28\\ 2001.14 26\\ 2001.18 21\\ 2001.225 13\\ 2001.275 0\\ 2001.325 -8\\ 2001.375 -10\\
2001.425 -12\\ 2001.475 -9\\ 2001.525 8\\ 2001.575 21\\ 2001.625 22\\ 2001.675 23\\ 2001.775 19\\ 2001.825 14\\ 2001.875 8\\ 2001.925 7\\
2001.975 6\\ 2002.025 -3\\ 2002.075 -11\\ 2002.125 -13\\ 2002.175 -17\\ 2002.225 -24\\ 2002.275 -23\\ 2002.325 -24\\ 2002.375 -26\\ 2002.425 -21\\
2002.475 -14\\ 2002.525 -7\\ 2002.575 -1\\ 2002.625 5\\ 2002.675 4\\ 2002.725 2\\ 2002.775 1\\ 2002.825 -5\\ 2002.875 -11\\ 2002.925 -15\\
2002.975 -10\\ 2003.025 1\\ 2003.075 11\\ 2003.125 18\\ 2003.175 24\\ 2003.225 23\\ 2003.275 25\\ 2003.325 27\\ 2003.375 21\\ 2003.425 23\\
2003.475 25\\ 2003.525 27\\ 2003.575 29\\ 2003.625 23\\ 2003.675 24\\ 2003.725 32\\ 2003.775 39\\ 2003.825 47\\ 2003.875 48\\ 2003.925 47\\
2003.975 43\\ 2004.025 36\\ 2004.075 36\\ 2004.125 35\\ 2004.175 33\\ 2004.225 30\\ 2004.275 22\\ 2004.325 23\\ 2004.375 22\\ 2004.425 21\\
2004.475 22\\ 2004.525 15\\ 2004.575 8\\ 2004.625 9\\ 2004.675 10\\ 2004.725 15\\ 2004.775 25\\ 2004.825 30\\ 2004.875 29\\ 2004.925 28\\
2004.975 27\\ 2005.025 27\\ 2005.075 29\\ 2005.125 30\\ 2005.175 28\\ 2005.225 25\\ 2005.275 26\\ 2005.325 20\\ 2005.375 19\\ 2005.425 17\\
2005.475 16\\ 2005.525 22\\ 2005.575 23\\ 2005.625 19\\ 2005.675 14\\ 2005.725 9\\ 2005.775 8\\ 2005.825 7\\ 2005.875 6\\ 2005.925 10\\
2005.975 16\\ 2006.025 22\\ 2006.075 30\\ 2006.125 38\\ 2006.175 48\\ 2006.225 57\\ 2006.275 63\\ 2006.325 69\\ 2006.375 67\\ 2006.425 68\\
2006.475 71\\ 2006.525 73\\ 2006.575 71\\ 2006.625 67\\ 2006.675 66\\ 2006.725 68\\ 2006.775 70\\ 2006.825 69\\ 2006.875 75\\ 2006.925 74\\
2006.975 72\\ 2007.025 77\\ 2007.075 78\\ 2007.125 79\\ 2007.175 80\\ 2007.225 81\\ 2007.275 82\\ 2007.325 78\\ 2007.375 80\\ 2007.425 86\\
2007.475 83\\ 2007.525 81\\ 2007.575 84\\ 2007.625 83\\ 2007.675 84\\ 2007.725 85\\ 2007.775 84\\ 2007.825 100\\ 2007.865 130\\ 2007.895 150\\
2007.925 170\\ 2007.99 200\\ 2008.025 225\\ 2008.075 230\\ 2008.125 228\\ 2008.165 245\\ 2008.20 262\\ 2008.245 253\\ 2008.295 255\\ 2008.345 250\\
2008.395 248\\ 2008.445 245\\ 2008.495 243\\ 2008.545 220\\ 2008.595 188\\ 2008.645 172\\ 2008.695 158\\ 2008.735 142\\ 2008.765 152\\ 2008.80 185\\
2008.84 192\\ 2008.88 200\\ 2008.925 228\\ 2008.975 245\\ 2009.025 242\\ 2009.075 225\\ 2009.125 218\\ 2009.175 216\\ 2009.225 215\\ 2009.275 216\\
2009.325 217\\ 2009.375 218\\ 2009.425 200\\ 2009.475 181\\ 2009.525 184\\ 2009.575 182\\ 2009.625 178\\ 2009.675 204\\ 2009.725 232\\ 2009.775 234\\
2009.825 235\\ 2009.875 234\\ 2009.925 225\\ 2009.975 226\\ 2010.025 224\\ 2010.075 222\\ 2010.125 223\\ 2010.175 224\\ 2010.225 225\\ 2010.275 217\\
2010.325 215\\ 2010.375 213\\ 2010.425 211\\ 2010.475 212\\ 2010.525 203\\ 2010.575 193\\ 2010.625 195\\ 2010.675 194\\ 2010.725 219\\ 2010.765 256\\
2010.80 255\\ 2010.84 232\\ 2010.88 210\\ 2010.925 212\\ 2010.975 215\\ 2011.025 212\\ 2011.075 202\\ 2011.125 186\\ 2011.175 178\\ 2011.225 163\\
2011.275 150\\ 2011.325 151\\ 2011.375 152\\ 2011.425 152\\ 2011.475 142\\ 2011.525 128\\ 2011.575 130\\ 2011.625 129\\ 2011.675 127\\ 2011.725 128\\
2011.775 131\\ 2011.825 140\\ 2011.875 135\\ 2011.925 132\\ 2011.975 135\\ 2012.025 132\\ 2012.075 125\\ 2012.125 112\\ 2012.175 115\\ 2012.225 114\\
2012.275 118\\ 2012.325 130\\ 2012.375 129\\ 2012.425 130\\ 2012.475 132\\ 2012.525 128\\ 2012.575 130\\ 2012.625 131\\ 2012.675 132\\ 2012.725 139\\
2012.775 140\\ 2012.825 139\\ 2012.875 122\\ 2012.925 102\\ 2012.975 104\\ 2013.025 101\\ 2013.075 78\\ 2013.135 50\\ 2013.175 42\\ 2013.225 27\\
2013.275 28\\ 2013.325 27\\ 2013.375 25\\ 2013.425 30\\ 2013.475 29\\ 2013.525 28\\ 2013.575 27\\ 2013.625 28\\ 2013.675 30\\ 2013.725 30\\
2013.775 34\\ 2013.825 38\\ 2013.875 37\\ 2013.925 36\\ 2013.975 39\\ 2014.025 38\\ 2014.075 45\\ 2014.125 57\\ 2014.175 62\\ 2014.225 61\\
2014.275 63\\ 2014.325 65\\ 2014.375 66\\ 2014.425 74\\ 2014.475 80\\ 2014.525 79\\ 2014.575 81\\ 2014.625 83\\ 2014.675 82\\ 2014.725 81\\
2014.775 80\\ 2014.825 74\\ 2014.875 62\\ 2014.925 62\\ 2014.975 52\\ 2015.025 30\\ 2015.075 17\\ 2015.125 11\\ 2015.175 12\\ 2015.225 20\\
2015.275 27\\ 2015.325 28\\ 2015.375 30\\ 2015.425 30\\ 2015.475 30\\ 2015.525 35\\ 2015.575 44\\ 2015.625 53\\ 2015.675 57\\ 2015.725 55\\
2015.775 43\\ 2015.825 31\\ 2015.875 30\\ 2015.925 29\\ 2015.975 30\\ 2016.025 34\\ 2016.075 37\\ 2016.125 38\\ 2016.175 35\\ 2016.225 36\\
2016.275 37\\ 2016.325 42\\ 2016.375 51\\ 2016.425 56\\ 2016.475 57\\ 2016.525 57\\ 2016.575 53\\ 2016.625 46\\ 2016.675 42\\ 2016.725 43\\
2016.775 38\\ 2016.825 28\\ 2016.875 26\\ 2016.925 30\\ 2016.975 38\\ 2017.025 37\\ 2017.075 36\\ 2017.125 34\\ 2017.175 29\\ 2017.225 30\\
2017.275 29\\ 2017.325 28\\ 2017.375 28\\ 2017.425 27\\ 2017.475 25\\ 2017.525 20\\ 2017.575 19\\ 2017.625 17\\ 2017.675 17\\ 2017.725 16\\
2017.775 12\\ 2017.825 8\\ 2017.875 7\\ 2017.925 6\\ 2017.975 7\\ 2018.025 6\\ 2018.075 11\\ 2018.125 21\\ 2018.175 28\\ 2018.225 30\\
2018.275 31\\ 2018.325 32\\ 2018.375 31\\ 2018.425 31\\ 2018.475 33\\ 2018.525 40\\ 2018.575 48\\ 2018.625 55\\ 2018.665 60\\ 2018.70 56\\
2018.74 47\\ 2018.78 42\\ 2018.825 38\\ 2018.875 39\\ 2018.925 40\\ 2018.975 41\\ 2019.025 42\\ 2019.075 38\\ 2019.135 37\\ 2019.175 32\\
2019.225 28\\ 2019.275 26\\ 2019.325 27\\ 2019.375 30\\ 2019.425 30\\ 2019.475 32\\ 2019.525 38\\ 2019.575 40\\
};

\addplot[rst, mylegmark]
 table[row sep=\\] {
x y\\
1997.00 22\\ 1997.04 20\\ 1997.08 17\\ 1997.12 14\\ 1997.16 10\\ 1997.20 6\\ 1997.24 2\\ 1997.28 -4\\ 1997.32 -9\\ 1997.36 -17\\
1997.40 -22\\ 1997.45 -19\\ 1997.50 -25\\ 1997.55 -27\\ 1997.60 -23\\ 1997.65 -28\\ 1997.70 -25\\ 1997.75 -22\\ 1997.80 -13\\ 1997.85 -30\\
1997.90 -34\\ 1997.95 -38\\ 1998.00 -41\\ 1998.05 -44\\ 1998.10 -40\\ 1998.15 -43\\ 1998.20 -38\\ 1998.25 -45\\ 1998.30 -42\\ 1998.35 -47\\
1998.40 -50\\ 1998.45 -53\\ 1998.50 -45\\ 1998.55 -38\\ 1998.60 -32\\ 1998.65 -28\\ 1998.70 -24\\ 1998.72 -17\\ 1998.78 -26\\ 1998.85 -28\\
1998.90 -24\\ 1998.95 -30\\ 1999.00 -33\\ 1999.05 -38\\ 1999.10 -35\\ 1999.15 -42\\ 1999.20 -40\\ 1999.25 -44\\ 1999.30 -48\\ 1999.35 -52\\
1999.40 -55\\ 1999.45 -58\\ 1999.50 -62\\ 1999.55 -55\\ 1999.60 -50\\ 1999.65 -53\\ 1999.70 -48\\ 1999.75 -54\\ 1999.80 -50\\ 1999.85 -52\\
1999.90 -47\\ 1999.95 -42\\ 2000.00 -38\\ 2000.05 -44\\ 2000.10 -40\\ 2000.15 -37\\ 2000.20 -41\\ 2000.25 -36\\ 2000.30 -40\\ 2000.35 -38\\
2000.40 -42\\ 2000.45 -37\\ 2000.50 -40\\ 2000.55 -36\\ 2000.60 -5\\ 2000.63 -8\\ 2000.66 5\\ 2000.70 15\\ 2000.74 20\\ 2000.78 12\\
2000.82 8\\ 2000.86 28\\ 2000.90 45\\ 2000.94 60\\ 2000.97 70\\ 2001.00 96\\ 2001.02 65\\ 2001.06 75\\ 2001.10 58\\ 2001.14 68\\
2001.18 52\\ 2001.22 40\\ 2001.26 30\\ 2001.30 22\\ 2001.35 18\\ 2001.40 28\\ 2001.45 36\\ 2001.50 44\\ 2001.55 100\\ 2001.60 108\\
2001.65 95\\ 2001.70 115\\ 2001.72 135\\ 2001.75 78\\ 2001.78 70\\ 2001.82 60\\ 2001.86 55\\ 2001.90 62\\ 2001.95 50\\ 2002.00 57\\
2002.05 48\\ 2002.10 32\\ 2002.15 25\\ 2002.20 20\\ 2002.25 15\\ 2002.30 22\\ 2002.35 12\\ 2002.40 25\\ 2002.45 40\\ 2002.50 45\\
2002.55 50\\ 2002.60 56\\ 2002.65 62\\ 2002.70 52\\ 2002.75 58\\ 2002.80 54\\ 2002.85 60\\ 2002.90 51\\ 2002.95 48\\ 2003.00 85\\
2003.03 90\\ 2003.06 78\\ 2003.10 110\\ 2003.14 130\\ 2003.18 150\\ 2003.22 170\\ 2003.26 185\\ 2003.30 175\\ 2003.34 188\\ 2003.38 165\\
2003.42 140\\ 2003.46 132\\ 2003.50 135\\ 2003.55 125\\ 2003.60 112\\ 2003.65 142\\ 2003.70 145\\ 2003.75 135\\ 2003.80 155\\ 2003.85 165\\
2003.90 172\\ 2003.95 168\\ 2004.00 175\\ 2004.05 145\\ 2004.10 138\\ 2004.15 128\\ 2004.20 115\\ 2004.25 100\\ 2004.30 92\\ 2004.35 105\\
2004.40 98\\ 2004.45 88\\ 2004.50 95\\ 2004.55 82\\ 2004.60 90\\ 2004.65 85\\ 2004.70 78\\ 2004.75 80\\ 2004.80 98\\ 2004.85 112\\
2004.90 125\\ 2004.95 120\\ 2005.00 130\\ 2005.05 138\\ 2005.10 145\\ 2005.15 150\\ 2005.20 165\\ 2005.25 180\\ 2005.28 197\\ 2005.32 185\\
2005.36 145\\ 2005.40 135\\ 2005.45 128\\ 2005.50 140\\ 2005.55 125\\ 2005.60 132\\ 2005.65 104\\ 2005.70 96\\ 2005.75 100\\ 2005.80 90\\
2005.85 98\\ 2005.90 93\\ 2005.95 102\\ 2006.00 95\\ 2006.05 105\\ 2006.10 110\\ 2006.15 118\\ 2006.20 112\\ 2006.25 120\\ 2006.30 98\\
2006.35 105\\ 2006.40 115\\ 2006.45 122\\ 2006.50 150\\ 2006.55 158\\ 2006.60 128\\ 2006.65 120\\ 2006.70 130\\ 2006.75 138\\ 2006.80 126\\
2006.85 142\\ 2006.90 132\\ 2006.95 145\\ 2007.00 135\\ 2007.05 140\\ 2007.10 170\\ 2007.15 180\\ 2007.20 175\\ 2007.25 186\\ 2007.30 178\\
2007.35 190\\ 2007.40 182\\ 2007.45 176\\ 2007.50 165\\ 2007.55 172\\ 2007.60 162\\ 2007.65 178\\ 2007.70 170\\ 2007.75 195\\ 2007.80 205\\
2007.85 215\\ 2007.90 235\\ 2007.94 250\\ 2007.97 256\\ 2008.00 275\\ 2008.03 300\\ 2008.05 339\\ 2008.08 290\\ 2008.12 285\\ 2008.16 295\\
2008.20 278\\ 2008.25 270\\ 2008.30 260\\ 2008.35 245\\ 2008.40 255\\ 2008.45 285\\ 2008.50 300\\ 2008.55 308\\ 2008.58 250\\ 2008.62 230\\
2008.66 215\\ 2008.70 195\\ 2008.75 185\\ 2008.80 175\\ 2008.85 190\\ 2008.90 220\\ 2008.95 285\\ 2009.00 295\\ 2009.04 305\\ 2009.07 318\\
2009.10 285\\ 2009.15 280\\ 2009.20 290\\ 2009.25 275\\ 2009.30 285\\ 2009.35 280\\ 2009.40 296\\ 2009.45 275\\ 2009.50 240\\ 2009.55 220\\
2009.60 232\\ 2009.65 210\\ 2009.70 300\\ 2009.75 310\\ 2009.78 324\\ 2009.82 298\\ 2009.86 255\\ 2009.90 262\\ 2009.95 245\\ 2010.00 250\\
2010.05 238\\ 2010.10 244\\ 2010.15 195\\ 2010.20 185\\ 2010.25 175\\ 2010.30 188\\ 2010.35 170\\ 2010.40 180\\ 2010.45 165\\ 2010.50 178\\
2010.55 150\\ 2010.60 138\\ 2010.65 160\\ 2010.70 175\\ 2010.75 165\\ 2010.80 180\\ 2010.85 155\\ 2010.90 145\\ 2010.95 170\\ 2011.00 180\\
2011.05 190\\ 2011.10 176\\ 2011.15 195\\ 2011.20 185\\ 2011.25 200\\ 2011.30 188\\ 2011.35 196\\ 2011.40 178\\ 2011.45 190\\ 2011.50 182\\
2011.55 200\\ 2011.60 208\\ 2011.65 220\\ 2011.70 212\\ 2011.75 204\\ 2011.80 178\\ 2011.85 182\\ 2011.90 175\\ 2011.95 184\\ 2012.00 178\\
2012.05 181\\ 2012.10 148\\ 2012.15 140\\ 2012.20 145\\ 2012.25 137\\ 2012.30 165\\ 2012.35 172\\ 2012.40 160\\ 2012.45 168\\ 2012.50 150\\
2012.55 145\\ 2012.60 155\\ 2012.65 140\\ 2012.70 152\\ 2012.75 148\\ 2012.80 156\\ 2012.85 145\\ 2012.90 150\\ 2012.95 138\\ 2013.00 125\\
2013.05 115\\ 2013.10 132\\ 2013.15 110\\ 2013.20 80\\ 2013.25 76\\ 2013.30 70\\ 2013.35 62\\ 2013.40 66\\ 2013.42 108\\ 2013.45 74\\
2013.50 78\\ 2013.55 72\\ 2013.60 76\\ 2013.65 82\\ 2013.70 86\\ 2013.75 78\\ 2013.80 84\\ 2013.85 80\\ 2013.90 87\\ 2013.95 76\\
2014.00 83\\ 2014.05 80\\ 2014.10 100\\ 2014.15 106\\ 2014.20 112\\ 2014.25 104\\ 2014.30 110\\ 2014.35 102\\ 2014.40 98\\ 2014.45 86\\
2014.50 80\\ 2014.55 84\\ 2014.60 76\\ 2014.65 79\\ 2014.70 74\\ 2014.75 78\\ 2014.80 72\\ 2014.85 62\\ 2014.90 55\\ 2014.95 58\\
2015.00 50\\ 2015.05 40\\ 2015.10 32\\ 2015.15 25\\ 2015.20 20\\ 2015.25 15\\ 2015.30 35\\ 2015.35 38\\ 2015.40 34\\ 2015.45 40\\
2015.50 37\\ 2015.55 41\\ 2015.60 70\\ 2015.65 78\\ 2015.70 74\\ 2015.75 55\\ 2015.80 50\\ 2015.85 53\\ 2015.90 48\\ 2015.95 54\\
2016.00 51\\ 2016.05 65\\ 2016.10 72\\ 2016.15 68\\ 2016.20 50\\ 2016.25 42\\ 2016.30 55\\ 2016.35 38\\ 2016.40 68\\ 2016.45 74\\
2016.50 70\\ 2016.55 72\\
};
\addlegendentry{Rendement\_A10}
\addplot[rst, forget plot]
 table[row sep=\\] {
x y\\
1997.02 21\\ 1997.06 18\\ 1997.10 15\\ 1997.14 12\\ 1997.18 8\\ 1997.22 4\\ 1997.26 -1\\ 1997.30 -6\\ 1997.34 -13\\ 1997.38 -19\\
1997.425 -20\\ 1997.475 -22\\ 1997.525 -26\\ 1997.575 -25\\ 1997.625 -25\\ 1997.675 -26\\ 1997.725 -24\\ 1997.775 -20\\ 1997.825 -22\\ 1997.875 -32\\
1997.925 -36\\ 1997.975 -39\\ 1998.025 -42\\ 1998.075 -42\\ 1998.125 -41\\ 1998.175 -40\\ 1998.225 -41\\ 1998.275 -43\\ 1998.325 -44\\ 1998.375 -48\\
1998.425 -51\\ 1998.475 -49\\ 1998.525 -41\\ 1998.575 -35\\ 1998.625 -30\\ 1998.675 -26\\ 1998.75 -22\\ 1998.815 -27\\ 1998.875 -26\\ 1998.925 -27\\
1998.975 -31\\ 1999.025 -35\\ 1999.075 -36\\ 1999.125 -38\\ 1999.175 -41\\ 1999.225 -42\\ 1999.275 -46\\ 1999.325 -50\\ 1999.375 -53\\ 1999.425 -56\\
1999.475 -60\\ 1999.525 -58\\ 1999.575 -52\\ 1999.625 -51\\ 1999.675 -50\\ 1999.725 -51\\ 1999.775 -52\\ 1999.825 -51\\ 1999.875 -49\\ 1999.925 -45\\
1999.975 -40\\ 2000.025 -41\\ 2000.075 -42\\ 2000.125 -38\\ 2000.175 -39\\ 2000.225 -38\\ 2000.275 -38\\ 2000.325 -39\\ 2000.375 -40\\ 2000.425 -39\\
2000.475 -38\\ 2000.525 -38\\ 2000.575 -20\\ 2000.615 -6\\ 2000.645 -2\\ 2000.68 10\\ 2000.72 18\\ 2000.76 16\\ 2000.80 10\\ 2000.84 18\\
2000.88 36\\ 2000.92 52\\ 2000.955 65\\ 2001.01 72\\ 2001.04 70\\ 2001.08 66\\ 2001.12 63\\ 2001.16 60\\ 2001.20 46\\ 2001.24 35\\
2001.28 26\\ 2001.325 20\\ 2001.375 23\\ 2001.425 32\\ 2001.475 40\\ 2001.525 70\\ 2001.575 104\\ 2001.625 101\\ 2001.675 105\\ 2001.765 74\\
2001.80 65\\ 2001.84 58\\ 2001.88 58\\ 2001.925 56\\ 2001.975 53\\ 2002.025 52\\ 2002.075 40\\ 2002.125 28\\ 2002.175 22\\ 2002.225 17\\
2002.275 18\\ 2002.325 17\\ 2002.375 18\\ 2002.425 32\\ 2002.475 42\\ 2002.525 48\\ 2002.575 53\\ 2002.625 59\\ 2002.675 57\\ 2002.725 55\\
2002.775 56\\ 2002.825 57\\ 2002.875 55\\ 2002.925 49\\ 2002.975 70\\ 2003.015 88\\ 2003.045 84\\ 2003.08 95\\ 2003.12 120\\ 2003.16 140\\
2003.20 160\\ 2003.24 178\\ 2003.28 180\\ 2003.32 182\\ 2003.36 176\\ 2003.40 152\\ 2003.44 136\\ 2003.48 133\\ 2003.525 130\\ 2003.575 118\\
2003.625 127\\ 2003.675 143\\ 2003.725 140\\ 2003.775 145\\ 2003.825 160\\ 2003.875 168\\ 2003.925 170\\ 2003.975 171\\ 2004.025 160\\ 2004.075 141\\
2004.125 133\\ 2004.175 121\\ 2004.225 107\\ 2004.275 96\\ 2004.325 98\\ 2004.375 101\\ 2004.425 93\\ 2004.475 91\\ 2004.525 88\\ 2004.575 86\\
2004.625 87\\ 2004.675 81\\ 2004.725 79\\ 2004.775 89\\ 2004.825 105\\ 2004.875 118\\ 2004.925 122\\ 2004.975 125\\ 2005.025 134\\ 2005.075 141\\
2005.125 147\\ 2005.175 157\\ 2005.225 172\\ 2005.265 188\\ 2005.30 191\\ 2005.34 165\\ 2005.38 140\\ 2005.425 131\\ 2005.475 134\\ 2005.525 132\\
2005.575 128\\ 2005.625 118\\ 2005.675 100\\ 2005.725 98\\ 2005.775 95\\ 2005.825 94\\ 2005.875 95\\ 2005.925 97\\ 2005.975 98\\ 2006.025 100\\
2006.075 107\\ 2006.125 114\\ 2006.175 115\\ 2006.225 116\\ 2006.275 109\\ 2006.325 101\\ 2006.375 110\\ 2006.425 118\\ 2006.475 136\\ 2006.525 154\\
2006.575 143\\ 2006.625 124\\ 2006.675 125\\ 2006.725 134\\ 2006.775 132\\ 2006.825 134\\ 2006.875 137\\ 2006.925 138\\ 2006.975 140\\ 2007.025 137\\
2007.075 155\\ 2007.125 175\\ 2007.175 177\\ 2007.225 180\\ 2007.275 182\\ 2007.325 184\\ 2007.375 186\\ 2007.425 179\\ 2007.475 170\\ 2007.525 168\\
2007.575 167\\ 2007.625 170\\ 2007.675 174\\ 2007.725 182\\ 2007.775 200\\ 2007.825 210\\ 2007.875 225\\ 2007.92 242\\ 2007.955 253\\ 2007.985 265\\
2008.015 288\\ 2008.065 300\\ 2008.10 287\\ 2008.14 290\\ 2008.18 286\\ 2008.225 274\\ 2008.275 265\\ 2008.325 252\\ 2008.375 250\\ 2008.425 270\\
2008.475 292\\ 2008.525 304\\ 2008.565 280\\ 2008.60 240\\ 2008.64 222\\ 2008.68 205\\ 2008.725 190\\ 2008.775 180\\ 2008.825 182\\ 2008.875 205\\
2008.925 252\\ 2008.975 290\\ 2009.02 300\\ 2009.055 311\\ 2009.085 300\\ 2009.125 282\\ 2009.175 285\\ 2009.225 282\\ 2009.275 280\\ 2009.325 282\\
2009.375 288\\ 2009.425 285\\ 2009.475 258\\ 2009.525 230\\ 2009.575 226\\ 2009.625 221\\ 2009.675 255\\ 2009.725 305\\ 2009.765 317\\ 2009.80 311\\
2009.84 276\\ 2009.88 258\\ 2009.925 253\\ 2009.975 247\\ 2010.025 244\\ 2010.075 241\\ 2010.125 220\\ 2010.175 190\\ 2010.225 180\\ 2010.275 181\\
2010.325 179\\ 2010.375 175\\ 2010.425 172\\ 2010.475 171\\ 2010.525 164\\ 2010.575 144\\ 2010.625 149\\ 2010.675 167\\ 2010.725 170\\ 2010.775 172\\
2010.825 168\\ 2010.875 150\\ 2010.925 157\\ 2010.975 175\\ 2011.025 185\\ 2011.075 183\\ 2011.125 185\\ 2011.175 190\\ 2011.225 192\\ 2011.275 194\\
2011.325 192\\ 2011.375 187\\ 2011.425 184\\ 2011.475 186\\ 2011.525 191\\ 2011.575 204\\ 2011.625 214\\ 2011.675 216\\ 2011.725 208\\ 2011.775 191\\
2011.825 180\\ 2011.875 178\\ 2011.925 179\\ 2011.975 181\\ 2012.025 179\\ 2012.075 165\\ 2012.125 144\\ 2012.175 142\\ 2012.225 141\\ 2012.275 151\\
2012.325 168\\ 2012.375 166\\ 2012.425 164\\ 2012.475 159\\ 2012.525 147\\ 2012.575 150\\ 2012.625 147\\ 2012.675 146\\ 2012.725 150\\ 2012.775 152\\
2012.825 150\\ 2012.875 147\\ 2012.925 144\\ 2012.975 131\\ 2013.025 120\\ 2013.075 124\\ 2013.125 121\\ 2013.175 95\\ 2013.225 78\\ 2013.275 73\\
2013.325 66\\ 2013.375 64\\ 2013.475 76\\ 2013.525 75\\ 2013.575 74\\ 2013.625 79\\ 2013.675 84\\ 2013.725 82\\ 2013.775 81\\ 2013.825 82\\
2013.875 83\\ 2013.925 81\\ 2013.975 79\\ 2014.025 81\\ 2014.075 90\\ 2014.125 103\\ 2014.175 109\\ 2014.225 108\\ 2014.275 107\\ 2014.325 106\\
2014.375 100\\ 2014.425 92\\ 2014.475 83\\ 2014.525 82\\ 2014.575 80\\ 2014.625 77\\ 2014.675 76\\ 2014.725 76\\ 2014.775 75\\ 2014.825 67\\
2014.875 58\\ 2014.925 56\\ 2014.975 54\\ 2015.025 45\\ 2015.075 36\\ 2015.125 28\\ 2015.175 22\\ 2015.225 17\\ 2015.275 25\\ 2015.325 36\\
2015.375 36\\ 2015.425 37\\ 2015.475 38\\ 2015.525 39\\ 2015.575 56\\ 2015.625 74\\ 2015.675 76\\ 2015.725 64\\ 2015.775 52\\ 2015.825 51\\
2015.875 50\\ 2015.925 51\\ 2015.975 52\\ 2016.025 58\\ 2016.075 68\\ 2016.125 70\\ 2016.175 59\\ 2016.225 46\\ 2016.275 48\\ 2016.325 46\\
2016.375 53\\ 2016.425 71\\ 2016.475 72\\ 2016.525 71\\ 2016.57 70\\
};

\fill[white] (axis cs:2001.51,361.4) rectangle (axis cs:2018.34,410);
\fill[white] (axis cs:2018.98,217.6) rectangle (axis cs:2023.1,354);

\addlegendimage{mylegline}
\addlegendentry{0,0\%}
\end{axis}
\begin{scope}[shift={(0,330.6pt)}, x=0.3pt, y=-0.3pt]
\node[anchor=center, inner sep=0pt, text=txtgray, font=\fontsize{8.8}{10}\selectfont] at (1100,106) {Rendement du placement Bridgestone Corp en fonction de la date de début pour des durées};
\node[anchor=center, inner sep=0pt, text=txtgray, font=\fontsize{8.8}{10}\selectfont] at (1100,146) {entre 4 (A04) et 10 ans (A10). Cotations entre janv. 1997 et juil. 2026. Revenus DISTRIBUES depuis juin. 1997.};
\end{scope}
\end{tikzpicture}
\end{document}
